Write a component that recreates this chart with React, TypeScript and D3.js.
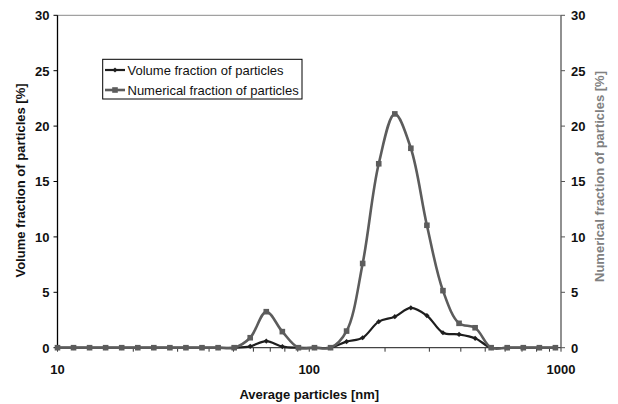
import React, { useEffect, useRef } from "react";
import * as d3 from "d3";

// Particle size bins [nm]
const sizes: number[] = [
  10, 11.58, 13.41, 15.53, 17.99, 20.84, 24.13, 27.95, 32.37, 37.49, 43.45, 50.32,
  58.28, 67.5, 78.18, 90.57, 104.9, 121.5, 140.7, 163.0, 188.8, 218.7, 253.3, 293.3,
  339.7, 393.6, 455.9, 527.9, 611.5, 708.3, 820.4, 950.2,
];

// Volume fraction of particles [%]
const volumeFraction: number[] = [
  0, 0, 0, 0, 0, 0, 0, 0, 0, 0, 0, 0,
  0.12, 0.6, 0.1, 0, 0, 0, 0.55, 0.9, 2.35, 2.8, 3.6, 2.9,
  1.35, 1.2, 0.85, 0, 0, 0, 0, 0,
];

// Numerical fraction of particles [%]
const numericalFraction: number[] = [
  0, 0, 0, 0, 0, 0, 0, 0, 0, 0, 0, 0,
  0.9, 3.25, 1.45, 0, 0, 0, 1.5, 7.6, 16.6, 21.1, 18.0, 11.05,
  5.15, 2.2, 1.8, 0, 0, 0, 0, 0,
];

const yTicks: number[] = [0, 5, 10, 15, 20, 25, 30];
const xMajorTicks: number[] = [10, 100, 1000];
const seriesNames: string[] = ["Volume fraction of particles", "Numerical fraction of particles"];

const W = 618;
const H = 404;
const FONT = "'Liberation Sans', Arial, Helvetica, sans-serif";

export default function App() {
  const ref = useRef<SVGSVGElement | null>(null);

  useEffect(() => {
    const svg = d3.select(ref.current);
    svg.selectAll("*").remove();

    const left = 57.5, right = 561, top = 15.3, bottom = 347.7;
    const x = d3.scaleLog().domain([10, 1000]).range([left, right]);
    const y = d3.scaleLinear().domain([0, 30]).range([bottom, top]);

    const g = svg.append("g");

    // top border
    g.append("line").attr("x1", left).attr("x2", right).attr("y1", top).attr("y2", top)
      .attr("stroke", "#8a8a8a").attr("stroke-width", 1);

    // x minor + major ticks
    const allTicks: number[] = [];
    for (let d = 10; d < 1000; d *= 10) for (let m = 1; m < 10; m++) allTicks.push(d * m);
    allTicks.push(1000);
    g.selectAll("line.xt").data(allTicks).enter().append("line")
      .attr("x1", (d) => x(d)).attr("x2", (d) => x(d))
      .attr("y1", bottom).attr("y2", bottom + 4)
      .attr("stroke", "#333").attr("stroke-width", 1);

    // x axis line
    g.append("line").attr("x1", left).attr("x2", right).attr("y1", bottom).attr("y2", bottom)
      .attr("stroke", "#444").attr("stroke-width", 1.2);

    // x tick labels
    g.selectAll("text.xl").data(xMajorTicks).enter().append("text")
      .attr("x", (d) => x(d)).attr("y", bottom + 26.5)
      .attr("text-anchor", "middle").attr("font-family", FONT).attr("font-size", 13)
      .attr("font-weight", "bold").attr("fill", "#111").text((d) => String(d));

    // left axis
    g.append("line").attr("x1", left).attr("x2", left).attr("y1", top).attr("y2", bottom)
      .attr("stroke", "#000").attr("stroke-width", 1.3);
    g.selectAll("line.yl").data(yTicks).enter().append("line")
      .attr("x1", left - 4).attr("x2", left).attr("y1", (d) => y(d)).attr("y2", (d) => y(d))
      .attr("stroke", "#000");
    g.selectAll("text.yl").data(yTicks).enter().append("text")
      .attr("x", left - 8).attr("y", (d) => y(d) + 4.8)
      .attr("text-anchor", "end").attr("font-family", FONT).attr("font-size", 13)
      .attr("font-weight", "bold").attr("fill", "#111").text((d) => String(d));

    // right axis
    g.append("line").attr("x1", right).attr("x2", right).attr("y1", top).attr("y2", bottom)
      .attr("stroke", "#555").attr("stroke-width", 1.3);
    g.selectAll("line.yr").data(yTicks).enter().append("line")
      .attr("x1", right).attr("x2", right + 4).attr("y1", (d) => y(d)).attr("y2", (d) => y(d))
      .attr("stroke", "#555");
    g.selectAll("text.yr").data(yTicks).enter().append("text")
      .attr("x", right + 10).attr("y", (d) => y(d) + 4.8)
      .attr("text-anchor", "start").attr("font-family", FONT).attr("font-size", 13)
      .attr("font-weight", "bold").attr("fill", "#111").text((d) => String(d));

    // axis titles
    const midY = (top + bottom) / 2;
    g.append("text").attr("transform", `translate(${x(100)},${H - 5})`)
      .attr("text-anchor", "middle").attr("font-family", FONT).attr("font-size", 13)
      .attr("font-weight", "bold").attr("fill", "#111").text("Average particles [nm]");
    g.append("text").attr("transform", `translate(25,${midY - 1}) rotate(-90)`)
      .attr("text-anchor", "middle").attr("font-family", FONT).attr("font-size", 13)
      .attr("font-weight", "bold").attr("fill", "#111").text("Volume fraction of particles [%]");
    g.append("text").attr("transform", `translate(604,${midY - 5}) rotate(-90)`)
      .attr("text-anchor", "middle").attr("font-family", FONT).attr("font-size", 13)
      .attr("font-weight", "bold").attr("fill", "#808080").text("Numerical fraction of particles [%]");

    // series
    const volData = sizes.map((s, i) => [s, volumeFraction[i]] as [number, number]);
    const numData = sizes.map((s, i) => [s, numericalFraction[i]] as [number, number]);
    const line = d3.line<[number, number]>()
      .x((d) => x(d[0])).y((d) => y(d[1]))
      .curve(d3.curveCatmullRom.alpha(0.5));

    const volColor = "#1e1e1e";
    const numColor = "#5c5c5c";

    g.append("path").attr("d", line(volData)).attr("fill", "none")
      .attr("stroke", volColor).attr("stroke-width", 2.2);
    g.selectAll("path.vm").data(volData).enter().append("path")
      .attr("d", (d) => {
        const cx = x(d[0]), cy = y(d[1]), r = 2.6;
        return `M${cx},${cy - r}L${cx + r},${cy}L${cx},${cy + r}L${cx - r},${cy}Z`;
      })
      .attr("fill", volColor);

    g.append("path").attr("d", line(numData)).attr("fill", "none")
      .attr("stroke", numColor).attr("stroke-width", 2.6);
    g.selectAll("rect.nm").data(numData).enter().append("rect")
      .attr("x", (d) => x(d[0]) - 2.8).attr("y", (d) => y(d[1]) - 2.8)
      .attr("width", 5.6).attr("height", 5.6).attr("fill", numColor);

    // legend
    const lx = 102.7, ly = 59.3, lw = 199.3, lh = 39.7;
    const lg = g.append("g");
    lg.append("rect").attr("x", lx).attr("y", ly).attr("width", lw).attr("height", lh)
      .attr("fill", "#fff").attr("stroke", "#000").attr("stroke-width", 1);
    const rows = [
      { name: seriesNames[0], color: volColor, cy: 70, sq: false },
      { name: seriesNames[1], color: numColor, cy: 90, sq: true },
    ];
    rows.forEach((r) => {
      lg.append("line").attr("x1", 105).attr("x2", 125).attr("y1", r.cy).attr("y2", r.cy)
        .attr("stroke", r.color).attr("stroke-width", r.sq ? 2.6 : 2.2);
      if (r.sq) {
        lg.append("rect").attr("x", 115 - 2.8).attr("y", r.cy - 2.8).attr("width", 5.6)
          .attr("height", 5.6).attr("fill", r.color);
      } else {
        const c = 115, rr = 2.6;
        lg.append("path").attr("d", `M${c},${r.cy - rr}L${c + rr},${r.cy}L${c},${r.cy + rr}L${c - rr},${r.cy}Z`)
          .attr("fill", r.color);
      }
      lg.append("text").attr("x", 127.5).attr("y", r.cy + 4.6)
        .attr("font-family", FONT).attr("font-size", 13).attr("fill", "#111").text(r.name);
    });
  }, []);

  return (
    <svg
      ref={ref}
      width={W}
      height={H}
      style={{ position: "absolute", left: 0, top: 0, background: "#fff" }}
    />
  );
}
